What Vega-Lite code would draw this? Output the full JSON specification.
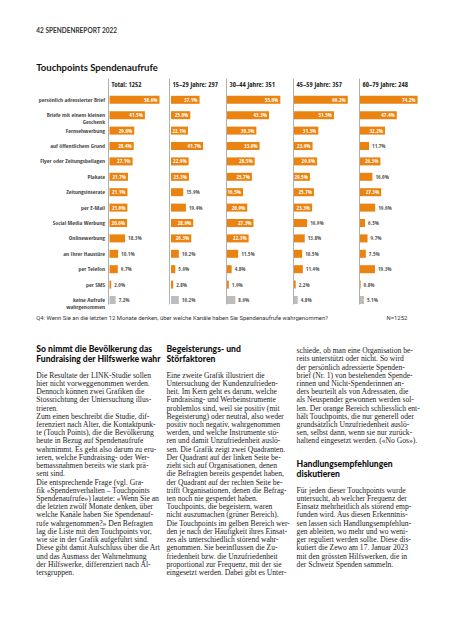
{
  "$schema": "https://vega.github.io/schema/vega-lite/v6.json",
  "background": "white",
  "padding": {"left": 36, "top": 28, "right": 0, "bottom": 0},
  "title": {
    "text": "42   SPENDENREPORT 2022",
    "subtitle": "Touchpoints Spendenaufrufe",
    "anchor": "start",
    "frame": "bounds",
    "font": "Lato",
    "fontSize": 6.5,
    "fontWeight": "bold",
    "color": "#333333",
    "subtitleFont": "Lato",
    "subtitleFontSize": 9.5,
    "subtitleFontWeight": "bold",
    "subtitleColor": "#111111",
    "subtitlePadding": 28,
    "offset": 6
  },
  "datasets": {
    "touch": [
      {"k": "persönlich adressierter Brief", "total": 58.6, "j1": 37.1, "j2": 55.0, "j3": 69.2, "j4": 74.2},
      {"k": "Briefe mit einem kleinen Geschenk", "total": 41.5, "j1": 25.0, "j2": 43.3, "j3": 51.5, "j4": 47.4},
      {"k": "Fernsehwerbung", "total": 29.0, "j1": 22.1, "j2": 30.3, "j3": 31.3, "j4": 32.2},
      {"k": "auf öffentlichem Grund", "total": 28.4, "j1": 41.7, "j2": 33.6, "j3": 23.9, "j4": 11.7},
      {"k": "Flyer oder Zeitungsbeilagen", "total": 27.1, "j1": 22.9, "j2": 28.5, "j3": 29.8, "j4": 26.3},
      {"k": "Plakate", "total": 21.7, "j1": 23.3, "j2": 25.7, "j3": 20.5, "j4": 16.0},
      {"k": "Zeitungsinserate", "total": 21.1, "j1": 15.9, "j2": 16.5, "j3": 25.7, "j4": 27.3},
      {"k": "per E-Mail", "total": 21.0, "j1": 19.4, "j2": 20.9, "j3": 23.3, "j4": 19.6},
      {"k": "Social Media Werbung", "total": 20.6, "j1": 28.9, "j2": 27.3, "j3": 16.9, "j4": 6.5},
      {"k": "Onlinewerbung", "total": 18.3, "j1": 26.3, "j2": 22.3, "j3": 13.8, "j4": 9.7},
      {"k": "an Ihrer Haustüre", "total": 10.1, "j1": 10.2, "j2": 11.5, "j3": 10.5, "j4": 7.5},
      {"k": "per Telefon", "total": 9.7, "j1": 5.6, "j2": 4.8, "j3": 11.4, "j4": 19.3},
      {"k": "per SMS", "total": 2.0, "j1": 2.8, "j2": 1.9, "j3": 2.2, "j4": 0.8},
      {"k": "keine Aufrufe wahrgenommen", "total": 7.2, "j1": 10.2, "j2": 8.6, "j3": 4.8, "j4": 5.1}
    ],
    "fussnote": [
      {"teil": "Frage", "t": "Q4: Wenn Sie an die letzten 12 Monate denken, über welche Kanäle haben Sie Spendenaufrufe wahrgenommen?"},
      {"teil": "Stichprobe", "t": "N=1252"}
    ],
    "fliesstext": [
      {"c": 1, "l": 0, "art": "h", "t": ["So nimmt die Bevölkerung das", "Fundraising der Hilfswerke wahr"]},
      {"c": 1, "l": 3, "art": "b", "t": "Die Resultate der LINK-Studie sollen"},
      {"c": 1, "l": 4, "art": "b", "t": "hier nicht vorweggenommen werden."},
      {"c": 1, "l": 5, "art": "b", "t": "Dennoch können zwei Grafiken die"},
      {"c": 1, "l": 6, "art": "b", "t": "Stossrichtung der Untersuchung illus-"},
      {"c": 1, "l": 7, "art": "b", "t": "trieren."},
      {"c": 1, "l": 8, "art": "b", "t": "\u2002\u00a0Zum einen beschreibt die Studie, dif-"},
      {"c": 1, "l": 9, "art": "b", "t": "ferenziert nach Alter, die Kontaktpunk-"},
      {"c": 1, "l": 10, "art": "b", "t": "te (Touch Points), die die Bevölkerung"},
      {"c": 1, "l": 11, "art": "b", "t": "heute in Bezug auf Spendenaufrufe"},
      {"c": 1, "l": 12, "art": "b", "t": "wahrnimmt. Es geht also darum zu eru-"},
      {"c": 1, "l": 13, "art": "b", "t": "ieren, welche Fundraising- oder Wer-"},
      {"c": 1, "l": 14, "art": "b", "t": "bemassnahmen bereits wie stark prä-"},
      {"c": 1, "l": 15, "art": "b", "t": "sent sind."},
      {"c": 1, "l": 16, "art": "b", "t": "\u2002\u00a0Die entsprechende Frage (vgl. Gra-"},
      {"c": 1, "l": 17, "art": "b", "t": "fik «Spendenverhalten – Touchpoints"},
      {"c": 1, "l": 18, "art": "b", "t": "Spendenaufrufe») lautete: «Wenn Sie an"},
      {"c": 1, "l": 19, "art": "b", "t": "die letzten zwölf Monate denken, über"},
      {"c": 1, "l": 20, "art": "b", "t": "welche Kanäle haben Sie Spendenauf-"},
      {"c": 1, "l": 21, "art": "b", "t": "rufe wahrgenommen?» Den Befragten"},
      {"c": 1, "l": 22, "art": "b", "t": "lag die Liste mit den Touchpoints vor,"},
      {"c": 1, "l": 23, "art": "b", "t": "wie sie in der Grafik aufgeführt sind."},
      {"c": 1, "l": 24, "art": "b", "t": "Diese gibt damit Aufschluss über die Art"},
      {"c": 1, "l": 25, "art": "b", "t": "und das Ausmass der Wahrnehmung"},
      {"c": 1, "l": 26, "art": "b", "t": "der Hilfswerke, differenziert nach Al-"},
      {"c": 1, "l": 27, "art": "b", "t": "tersgruppen."},
      {"c": 2, "l": 0, "art": "h", "t": ["Begeisterungs- und", "Störfaktoren"]},
      {"c": 2, "l": 3, "art": "b", "t": "\u2002\u00a0Eine zweite Grafik illustriert die"},
      {"c": 2, "l": 4, "art": "b", "t": "Untersuchung der Kundenzufrieden-"},
      {"c": 2, "l": 5, "art": "b", "t": "heit. Im Kern geht es darum, welche"},
      {"c": 2, "l": 6, "art": "b", "t": "Fundraising- und Werbeinstrumente"},
      {"c": 2, "l": 7, "art": "b", "t": "problemlos sind, weil sie positiv (mit"},
      {"c": 2, "l": 8, "art": "b", "t": "Begeisterung) oder neutral, also weder"},
      {"c": 2, "l": 9, "art": "b", "t": "positiv noch negativ, wahrgenommen"},
      {"c": 2, "l": 10, "art": "b", "t": "werden, und welche Instrumente stö-"},
      {"c": 2, "l": 11, "art": "b", "t": "ren und damit Unzufriedenheit auslö-"},
      {"c": 2, "l": 12, "art": "b", "t": "sen. Die Grafik zeigt zwei Quadranten."},
      {"c": 2, "l": 13, "art": "b", "t": "Der Quadrant auf der linken Seite be-"},
      {"c": 2, "l": 14, "art": "b", "t": "zieht sich auf Organisationen, denen"},
      {"c": 2, "l": 15, "art": "b", "t": "die Befragten bereits gespendet haben,"},
      {"c": 2, "l": 16, "art": "b", "t": "der Quadrant auf der rechten Seite be-"},
      {"c": 2, "l": 17, "art": "b", "t": "trifft Organisationen, denen die Befrag-"},
      {"c": 2, "l": 18, "art": "b", "t": "ten noch nie gespendet haben."},
      {"c": 2, "l": 19, "art": "b", "t": "\u2002\u00a0Touchpoints, die begeistern, waren"},
      {"c": 2, "l": 20, "art": "b", "t": "nicht auszumachen (grüner Bereich)."},
      {"c": 2, "l": 21, "art": "b", "t": "Die Touchpoints im gelben Bereich wer-"},
      {"c": 2, "l": 22, "art": "b", "t": "den je nach der Häufigkeit ihres Einsat-"},
      {"c": 2, "l": 23, "art": "b", "t": "zes als unterschiedlich störend wahr-"},
      {"c": 2, "l": 24, "art": "b", "t": "genommen. Sie beeinflussen die Zu-"},
      {"c": 2, "l": 25, "art": "b", "t": "friedenheit bzw. die Unzufriedenheit"},
      {"c": 2, "l": 26, "art": "b", "t": "proportional zur Frequenz, mit der sie"},
      {"c": 2, "l": 27, "art": "b", "t": "eingesetzt werden. Dabei gibt es Unter-"},
      {"c": 3, "l": 0, "art": "b", "t": "schiede, ob man eine Organisation be-"},
      {"c": 3, "l": 1, "art": "b", "t": "reits unterstützt oder nicht. So wird"},
      {"c": 3, "l": 2, "art": "b", "t": "der persönlich adressierte Spenden-"},
      {"c": 3, "l": 3, "art": "b", "t": "brief (Nr. 1) von bestehenden Spende-"},
      {"c": 3, "l": 4, "art": "b", "t": "rinnen und Nicht-Spenderinnen an-"},
      {"c": 3, "l": 5, "art": "b", "t": "ders beurteilt als von Adressaten, die"},
      {"c": 3, "l": 6, "art": "b", "t": "als Neuspender gewonnen werden sol-"},
      {"c": 3, "l": 7, "art": "b", "t": "len. Der orange Bereich schliesslich ent-"},
      {"c": 3, "l": 8, "art": "b", "t": "hält Touchpoints, die nur generell oder"},
      {"c": 3, "l": 9, "art": "b", "t": "grundsätzlich Unzufriedenheit auslö-"},
      {"c": 3, "l": 10, "art": "b", "t": "sen, selbst dann, wenn sie nur zurück-"},
      {"c": 3, "l": 11, "art": "b", "t": "haltend eingesetzt werden. («No Gos»)."},
      {"c": 3, "l": 14, "art": "h", "t": ["Handlungsempfehlungen", "diskutieren"]},
      {"c": 3, "l": 17, "art": "b", "t": "\u2002\u00a0Für jeden dieser Touchpoints wurde"},
      {"c": 3, "l": 18, "art": "b", "t": "untersucht, ab welcher Frequenz der"},
      {"c": 3, "l": 19, "art": "b", "t": "Einsatz mehrheitlich als störend emp-"},
      {"c": 3, "l": 20, "art": "b", "t": "funden wird. Aus diesen Erkenntnis-"},
      {"c": 3, "l": 21, "art": "b", "t": "sen lassen sich Handlungsempfehlun-"},
      {"c": 3, "l": 22, "art": "b", "t": "gen ableiten, wo mehr und wo weni-"},
      {"c": 3, "l": 23, "art": "b", "t": "ger reguliert werden sollte. Diese dis-"},
      {"c": 3, "l": 24, "art": "b", "t": "kutiert die Zewo am 17. Januar 2023"},
      {"c": 3, "l": 25, "art": "b", "t": "mit den grössten Hilfswerken, die in"},
      {"c": 3, "l": 26, "art": "b", "t": "der Schweiz Spenden sammeln."}
    ]
  },
  "spacing": 0,
  "vconcat": [
    {
      "data": {"name": "touch"},
      "spacing": 0,
      "hconcat": [
        {
          "width": 61, "height": 226,
          "transform": [{"calculate": "format(datum.total, '.1f') + '%'", "as": "lbl"}],
          "encoding": {
            "y": {"field": "k", "type": "nominal", "sort": null,
              "scale": {"paddingInner": 0.48, "paddingOuter": 0.578, "align": 1},
              "axis": {"title": null, "labels": true, "labelExpr": "datum.value == 'Briefe mit einem kleinen Geschenk' ? ['Briefe mit einem kleinen', 'Geschenk'] : datum.value == 'keine Aufrufe wahrgenommen' ? ['keine Aufrufe', 'wahrgenommen'] : datum.value"}},
            "x": {"field": "total", "type": "quantitative", "scale": {"domain": [-1.76, 69.75], "nice": false, "zero": false},
              "axis": {"orient": "top", "title": "Total: 1252"}}
          },
          "layer": [
            {"mark": {"type": "bar"}, "encoding": {"color": {"condition": {"test": "datum.k === 'keine Aufrufe wahrgenommen'", "value": "#BDBDBD"}, "value": "#EA8310"}}},
            {"transform": [{"filter": "datum.total >= 20"}], "mark": {"type": "text", "align": "right", "dx": -2, "color": "white", "fontSize": 5.6, "font": "'Noto Sans Condensed', 'Open Sans Condensed', 'Roboto Condensed', Roboto"}, "encoding": {"text": {"field": "lbl"}}},
            {"transform": [{"filter": "datum.total < 20"}], "mark": {"type": "text", "align": "left", "dx": 3, "color": "#555555", "fontSize": 5.6, "font": "'Noto Sans Condensed', 'Open Sans Condensed', 'Roboto Condensed', Roboto"}, "encoding": {"text": {"field": "lbl"}}}
          ]
        },
        {
          "width": 57, "height": 226,
          "transform": [{"calculate": "format(datum.j1, '.1f') + '%'", "as": "lbl"}],
          "encoding": {
            "y": {"field": "k", "type": "nominal", "sort": null,
              "scale": {"paddingInner": 0.48, "paddingOuter": 0.578, "align": 1},
              "axis": {"title": null, "labels": false}},
            "x": {"field": "j1", "type": "quantitative", "scale": {"domain": [-2.6, 71.43], "nice": false, "zero": false},
              "axis": {"orient": "top", "title": "15–29 Jahre: 297"}}
          },
          "layer": [
            {"mark": {"type": "bar"}, "encoding": {"color": {"condition": {"test": "datum.k === 'keine Aufrufe wahrgenommen'", "value": "#BDBDBD"}, "value": "#EA8310"}}},
            {"transform": [{"filter": "datum.j1 >= 20"}], "mark": {"type": "text", "align": "right", "dx": -2, "color": "white", "fontSize": 5.6, "font": "'Noto Sans Condensed', 'Open Sans Condensed', 'Roboto Condensed', Roboto"}, "encoding": {"text": {"field": "lbl"}}},
            {"transform": [{"filter": "datum.j1 < 20"}], "mark": {"type": "text", "align": "left", "dx": 3, "color": "#555555", "fontSize": 5.6, "font": "'Noto Sans Condensed', 'Open Sans Condensed', 'Roboto Condensed', Roboto"}, "encoding": {"text": {"field": "lbl"}}}
          ]
        },
        {
          "width": 67, "height": 226,
          "transform": [{"calculate": "format(datum.j2, '.1f') + '%'", "as": "lbl"}],
          "encoding": {
            "y": {"field": "k", "type": "nominal", "sort": null,
              "scale": {"paddingInner": 0.48, "paddingOuter": 0.578, "align": 1},
              "axis": {"title": null, "labels": false}},
            "x": {"field": "j2", "type": "quantitative", "scale": {"domain": [-1.03, 68.04], "nice": false, "zero": false},
              "axis": {"orient": "top", "title": "30–44 Jahre: 351"}}
          },
          "layer": [
            {"mark": {"type": "bar"}, "encoding": {"color": {"condition": {"test": "datum.k === 'keine Aufrufe wahrgenommen'", "value": "#BDBDBD"}, "value": "#EA8310"}}},
            {"transform": [{"filter": "datum.j2 >= 16"}], "mark": {"type": "text", "align": "right", "dx": -2, "color": "white", "fontSize": 5.6, "font": "'Noto Sans Condensed', 'Open Sans Condensed', 'Roboto Condensed', Roboto"}, "encoding": {"text": {"field": "lbl"}}},
            {"transform": [{"filter": "datum.j2 < 16"}], "mark": {"type": "text", "align": "left", "dx": 3, "color": "#555555", "fontSize": 5.6, "font": "'Noto Sans Condensed', 'Open Sans Condensed', 'Roboto Condensed', Roboto"}, "encoding": {"text": {"field": "lbl"}}}
          ]
        },
        {
          "width": 66, "height": 226,
          "transform": [{"calculate": "format(datum.j3, '.1f') + '%'", "as": "lbl"}],
          "encoding": {
            "y": {"field": "k", "type": "nominal", "sort": null,
              "scale": {"paddingInner": 0.48, "paddingOuter": 0.578, "align": 1},
              "axis": {"title": null, "labels": false}},
            "x": {"field": "j3", "type": "quantitative", "scale": {"domain": [-1.29, 83.66], "nice": false, "zero": false},
              "axis": {"orient": "top", "title": "45–59 Jahre: 357"}}
          },
          "layer": [
            {"mark": {"type": "bar"}, "encoding": {"color": {"condition": {"test": "datum.k === 'keine Aufrufe wahrgenommen'", "value": "#BDBDBD"}, "value": "#EA8310"}}},
            {"transform": [{"filter": "datum.j3 >= 20"}], "mark": {"type": "text", "align": "right", "dx": -2, "color": "white", "fontSize": 5.6, "font": "'Noto Sans Condensed', 'Open Sans Condensed', 'Roboto Condensed', Roboto"}, "encoding": {"text": {"field": "lbl"}}},
            {"transform": [{"filter": "datum.j3 < 20"}], "mark": {"type": "text", "align": "left", "dx": 3, "color": "#555555", "fontSize": 5.6, "font": "'Noto Sans Condensed', 'Open Sans Condensed', 'Roboto Condensed', Roboto"}, "encoding": {"text": {"field": "lbl"}}}
          ]
        },
        {
          "width": 75, "height": 226,
          "transform": [{"calculate": "format(datum.j4, '.1f') + '%'", "as": "lbl"}],
          "encoding": {
            "y": {"field": "k", "type": "nominal", "sort": null,
              "scale": {"paddingInner": 0.48, "paddingOuter": 0.578, "align": 1},
              "axis": {"title": null, "labels": false}},
            "x": {"field": "j4", "type": "quantitative", "scale": {"domain": [-1.29, 95.36], "nice": false, "zero": false},
              "axis": {"orient": "top", "title": "60–79 Jahre: 248"}}
          },
          "layer": [
            {"mark": {"type": "bar"}, "encoding": {"color": {"condition": {"test": "datum.k === 'keine Aufrufe wahrgenommen'", "value": "#BDBDBD"}, "value": "#EA8310"}}},
            {"transform": [{"filter": "datum.j4 >= 20"}], "mark": {"type": "text", "align": "right", "dx": -2, "color": "white", "fontSize": 5.6, "font": "'Noto Sans Condensed', 'Open Sans Condensed', 'Roboto Condensed', Roboto"}, "encoding": {"text": {"field": "lbl"}}},
            {"transform": [{"filter": "datum.j4 < 20"}], "mark": {"type": "text", "align": "left", "dx": 3, "color": "#555555", "fontSize": 5.6, "font": "'Noto Sans Condensed', 'Open Sans Condensed', 'Roboto Condensed', Roboto"}, "encoding": {"text": {"field": "lbl"}}}
          ]
        }
      ]
    },
    {
      "data": {"name": "fussnote"},
      "width": 299.3, "height": 16,
      "encoding": {
        "x": {"field": "teil", "type": "nominal", "scale": {"type": "point", "domain": ["Frage", "Stichprobe"], "range": [-71.7, 299.3], "padding": 0}, "axis": null},
        "text": {"field": "t"}
      },
      "layer": [
        {"transform": [{"filter": "datum.teil == 'Frage'"}], "mark": {"type": "text", "align": "left", "fontSize": 5.9, "font": "Roboto", "color": "#333333"}},
        {"transform": [{"filter": "datum.teil == 'Stichprobe'"}], "mark": {"type": "text", "align": "right", "fontSize": 5.9, "font": "Roboto", "color": "#333333"}}
      ]
    },
    {
      "data": {"name": "fliesstext"},
      "width": 188.6, "height": 255.2,
      "encoding": {
        "x": {"field": "c", "type": "quantitative", "scale": {"domain": [1, 3], "range": [-71.7, 188.6], "nice": false, "zero": false}, "axis": null},
        "y": {"field": "l", "type": "quantitative", "scale": {"domain": [-3.05, 28], "nice": false, "zero": false, "reverse": true}, "axis": null},
        "text": {"field": "t"}
      },
      "layer": [
        {"transform": [{"filter": "datum.art == 'h'"}], "mark": {"type": "text", "align": "left", "baseline": "alphabetic", "lineHeight": 10, "dy": 1, "font": "Lato", "fontWeight": 900, "fontSize": 8.6, "color": "#111111"}},
        {"transform": [{"filter": "datum.art == 'b'"}], "mark": {"type": "text", "align": "left", "baseline": "middle", "font": "Liberation Serif", "fontSize": 7.6, "color": "#222222"}}
      ]
    }
  ],
  "config": {
    "view": {"stroke": null},
    "axis": {"grid": false},
    "axisY": {"ticks": false, "domain": true, "domainColor": "#9d9d9d", "domainWidth": 0.8, "labelPadding": 3.5, "labelFont": "'Noto Sans Condensed', 'Open Sans Condensed', 'Roboto Condensed', Roboto", "labelFontSize": 6, "labelColor": "#4a4a4a", "labelLineHeight": 6.8, "labelLimit": 100},
    "axisX": {"labels": false, "ticks": false, "domain": false, "titleAnchor": "start", "titleAlign": "left", "titleX": 3, "titleY": 8.5, "titleBaseline": "alphabetic", "titleFont": "'Noto Sans Condensed', 'Open Sans Condensed', 'Roboto Condensed', Roboto", "titleFontSize": 7, "titleFontWeight": "bold", "titleColor": "#222222"}
  }
}
